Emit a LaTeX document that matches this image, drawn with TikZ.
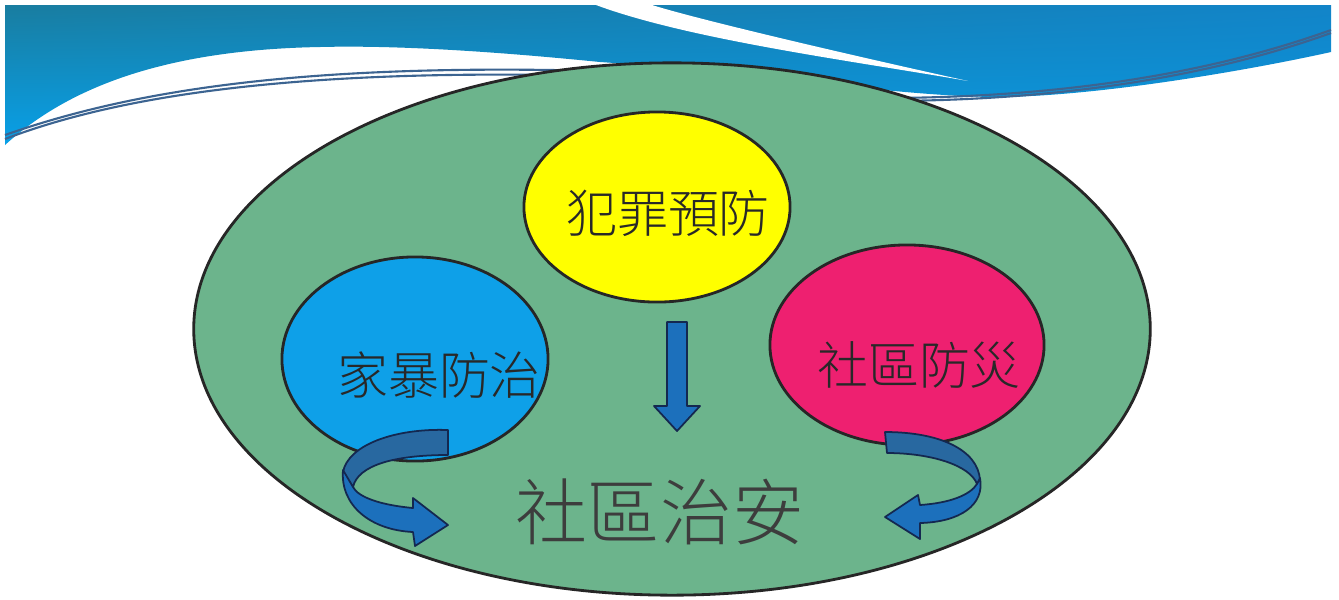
\documentclass[tikz,border=0pt]{standalone}
\usepackage{fontspec}
\newfontfamily\cjk{Noto Sans CJK TC Light}
\usetikzlibrary{shapes.geometric,shadings}
\definecolor{bandUL}{RGB}{25,125,160}
\definecolor{bandUR}{RGB}{18,132,200}
\definecolor{bandLL}{RGB}{8,160,232}
\definecolor{bandLR}{RGB}{10,150,222}
\definecolor{swoosh}{RGB}{60,100,145}
\definecolor{outerGreen}{RGB}{108,180,140}
\definecolor{crimeYellow}{RGB}{255,255,0}
\definecolor{familyBlue}{RGB}{14,160,232}
\definecolor{disasterPink}{RGB}{238,32,112}
\definecolor{arrowBlue}{RGB}{28,112,188}
\definecolor{arrowBack}{RGB}{40,104,160}
\definecolor{arrowEdge}{RGB}{20,40,80}
\definecolor{textGray}{RGB}{40,40,40}
\tikzset{
  blob/.style={ellipse, draw=black!85, line width=0.8pt, inner sep=0pt},
  label/.style={font=\cjk\fontsize{14.5}{16}\selectfont, text=textGray, inner sep=0pt},
  biglabel/.style={font=\cjk\fontsize{20.5}{22}\selectfont, text=textGray!90, inner sep=0pt},
  ribbon/.style={fill=arrowBlue, draw=arrowEdge, line width=0.5pt, line join=round},
  ribbonback/.style={fill=arrowBack, draw=arrowEdge, line width=0.5pt, line join=round},
  swooshline/.style={draw=swoosh, line width=0.6pt}
}
\begin{document}
\begin{tikzpicture}[x=0.01cm,y=-0.01cm]
\useasboundingbox (0,0) rectangle (1339,599);
\fill[white] (0,0) rectangle (1339,599);
% banner
\shade[upper left=bandUL, upper right=bandUR, lower left=bandLL, lower right=bandLR]
  (5,5) -- (1331,5) -- (1331,52)
  .. controls (1250,70) and (1100,96) .. (1000,97)
  .. controls (900,97) and (750,72) .. (600,62)
  .. controls (500,52) and (400,45) .. (320,47)
  .. controls (150,50) and (60,95) .. (5,145) -- cycle;
% white streak
\fill[white] (596,5) -- (652,5)
  .. controls (700,20) and (850,55) .. (968,81)
  .. controls (860,62) and (690,40) .. (596,5) -- cycle;
% swooshes
\draw[swooshline] (5,139) .. controls (120,95) and (300,68) .. (600,76);
\draw[swooshline] (5,135) .. controls (130,91) and (300,63) .. (600,71);
\draw[swooshline] (890,101) .. controls (1050,100) and (1200,80) .. (1331,33);
\draw[swooshline] (890,98) .. controls (1050,97) and (1200,77) .. (1331,30);
% main ellipse
\node[blob, fill=outerGreen, minimum width=9.56cm, minimum height=5.32cm] (whole) at (672,329) {};
\node[blob, fill=crimeYellow, minimum width=2.66cm, minimum height=1.90cm] (crime) at (657,207) {};
\node[blob, fill=familyBlue, minimum width=2.66cm, minimum height=2.04cm] (family) at (415,359) {};
\node[blob, fill=disasterPink, minimum width=2.74cm, minimum height=2.00cm] (disaster) at (907,345) {};
\node[label] (crimeText) at (668,213) {犯罪預防};
\node[label] (familyText) at (439,375) {家暴防治};
\node[label] (disasterText) at (919,365) {社區防災};
\node[biglabel] (safetyText) at (660,512) {社區治安};
% down arrow
\filldraw[ribbon] (667,322) -- (687,322) -- (687,406) -- (700,406) -- (677,431) -- (654,406) -- (667,406) -- cycle;
% left curved arrow
\filldraw[ribbonback] (448,430) .. controls (395,428) and (348,445) .. (343,472)
  -- (353,487) .. controls (358,465) and (395,455) .. (448,455) -- cycle;
\filldraw[ribbon] (343,470) .. controls (340,505) and (370,530) .. (413,532)
  -- (415,546) -- (448,525) -- (413,498) -- (413,508)
  .. controls (380,505) and (358,497) .. (353,487) -- cycle;
% right curved arrow
\filldraw[ribbonback] (885,432) .. controls (940,432) and (978,450) .. (980,480)
  -- (977,484) .. controls (970,465) and (930,453) .. (887,453) -- cycle;
\filldraw[ribbon] (980,478) .. controls (985,505) and (960,522) .. (920,523)
  -- (920,539) -- (885,517) -- (918,495) -- (920,505)
  .. controls (950,503) and (970,495) .. (977,484) -- cycle;
\end{tikzpicture}
\end{document}
